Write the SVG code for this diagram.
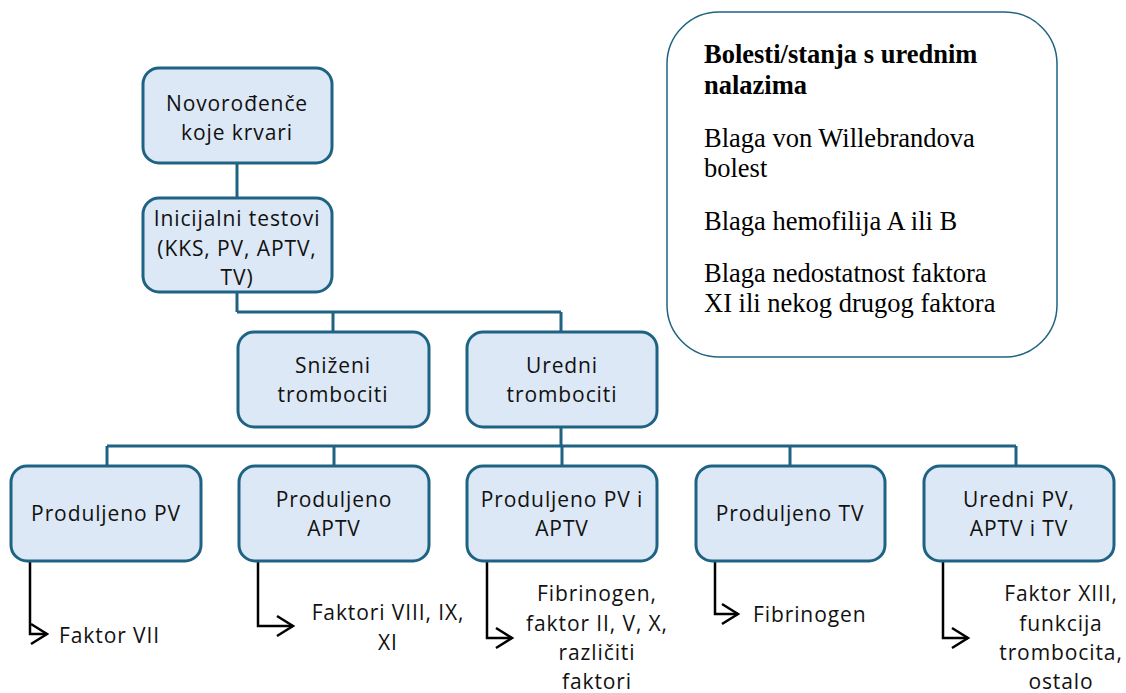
<svg xmlns="http://www.w3.org/2000/svg" width="1126" height="693" viewBox="0 0 1126 693">
<style>
.box{fill:#dce8f5;stroke:#1f6384;stroke-width:3}
.t{font-family:"Open Sans","Liberation Sans",sans-serif;font-size:21px;letter-spacing:0.9px;fill:#111;text-anchor:middle}
.ts{font-family:"Open Sans","Liberation Sans",sans-serif;font-size:21px;letter-spacing:0.9px;fill:#111}
.c{stroke:#1f6384;stroke-width:3;fill:none}
.e{stroke:#000;stroke-width:2.5;fill:none}
.s{font-family:"Liberation Serif",serif;font-size:26.5px;fill:#000}
</style>
<defs>
<marker id="arr" markerUnits="userSpaceOnUse" markerWidth="20" markerHeight="24" refX="16" refY="10" orient="auto" overflow="visible">
<path d="M0,0 L16,10 L0,20" fill="none" stroke="#000" stroke-width="2.5"/>
</marker>
</defs>
<rect x="0" y="0" width="1126" height="693" fill="#fff"/>
<g id="connectors">
<path class="c" d="M237,163 V198 M237,292 V312 M237,312 H561 M333,312 V332 M561,312 V332 M561,427 V446 M107,446 H1016 M107,446 V466 M334,446 V466 M562,446 V466 M790,446 V466 M1016,446 V466"/>
<path class="e" d="M30,561 V634 H47" marker-end="url(#arr)"/>
<path class="e" d="M258,561 V626 H293" marker-end="url(#arr)"/>
<path class="e" d="M487,561 V638 H512" marker-end="url(#arr)"/>
<path class="e" d="M715,561 V614 H738" marker-end="url(#arr)"/>
<path class="e" d="M943,561 V638 H968" marker-end="url(#arr)"/>
</g>
<g id="n-novorodjence">
<rect class="box" x="143" y="68" width="189" height="95" rx="16"/>
<text class="t" x="237" y="111">Novorođenče</text>
<text class="t" x="237" y="140">koje krvari</text>
</g>
<g id="n-inicijalni">
<rect class="box" x="143" y="198" width="189" height="94" rx="16"/>
<text class="t" x="237" y="226">Inicijalni testovi</text>
<text class="t" x="237" y="256">(KKS, PV, APTV,</text>
<text class="t" x="237" y="285">TV)</text>
</g>
<g id="n-snizeni">
<rect class="box" x="238" y="332" width="191" height="95" rx="16"/>
<text class="t" x="333" y="373">Sniženi</text>
<text class="t" x="333" y="402">trombociti</text>
</g>
<g id="n-uredni">
<rect class="box" x="467" y="332" width="190" height="95" rx="16"/>
<text class="t" x="562" y="373">Uredni</text>
<text class="t" x="562" y="402">trombociti</text>
</g>
<g id="n-pv">
<rect class="box" x="11" y="466" width="190" height="95" rx="16"/>
<text class="t" x="106" y="521">Produljeno PV</text>
</g>
<g id="n-aptv">
<rect class="box" x="239" y="466" width="190" height="95" rx="16"/>
<text class="t" x="334" y="507">Produljeno</text>
<text class="t" x="334" y="536">APTV</text>
</g>
<g id="n-pv-aptv">
<rect class="box" x="467" y="466" width="190" height="95" rx="16"/>
<text class="t" x="562" y="507">Produljeno PV i</text>
<text class="t" x="562" y="536">APTV</text>
</g>
<g id="n-tv">
<rect class="box" x="696" y="466" width="189" height="95" rx="16"/>
<text class="t" x="790" y="521">Produljeno TV</text>
</g>
<g id="n-uredni-pv">
<rect class="box" x="924" y="466" width="190" height="95" rx="16"/>
<text class="t" x="1019" y="507">Uredni PV,</text>
<text class="t" x="1019" y="536">APTV i TV</text>
</g>
<g id="l-faktor7">
<text class="ts" x="59" y="643">Faktor VII</text>
</g>
<g id="l-faktori">
<text class="t" x="388" y="620">Faktori VIII, IX,</text>
<text class="t" x="388" y="650">XI</text>
</g>
<g id="l-fibrinogen1">
<text class="t" x="597" y="601">Fibrinogen,</text>
<text class="t" x="597" y="631">faktor II, V, X,</text>
<text class="t" x="597" y="660">različiti</text>
<text class="t" x="597" y="689">faktori</text>
</g>
<g id="l-fibrinogen2">
<text class="ts" x="753" y="622">Fibrinogen</text>
</g>
<g id="l-faktor13">
<text class="t" x="1061" y="601">Faktor XIII,</text>
<text class="t" x="1061" y="631">funkcija</text>
<text class="t" x="1061" y="660">trombocita,</text>
<text class="t" x="1061" y="689">ostalo</text>
</g>
<g id="n-bolesti">
<rect x="667" y="12" width="390" height="345" rx="52" fill="#fff" stroke="#1f6384" stroke-width="1.5"/>
<text class="s" x="704" y="63" font-weight="bold">Bolesti/stanja s urednim</text>
<text class="s" x="704" y="94" font-weight="bold">nalazima</text>
<text class="s" x="704" y="147">Blaga von Willebrandova</text>
<text class="s" x="704" y="177">bolest</text>
<text class="s" x="704" y="230">Blaga hemofilija A ili B</text>
<text class="s" x="704" y="282">Blaga nedostatnost faktora</text>
<text class="s" x="704" y="312">XI ili nekog drugog faktora</text>
</g>
</svg>
